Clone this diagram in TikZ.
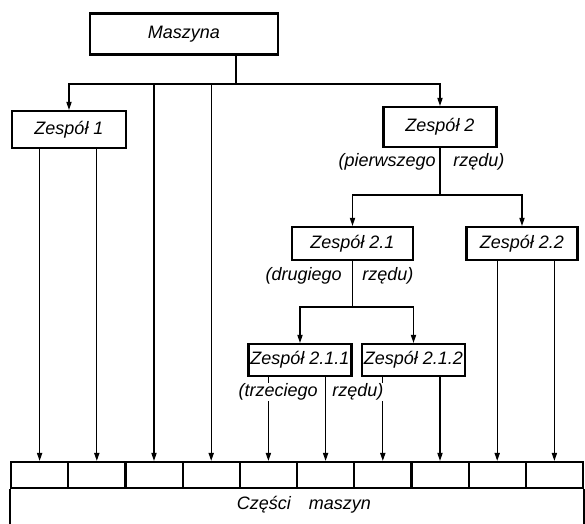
\documentclass[tikz,border=0pt]{standalone}
\usepackage{fontspec}
\setmainfont{Liberation Sans}
\usetikzlibrary{arrows.meta,positioning}

\begin{document}
\begin{tikzpicture}[x=0.5pt,y=-0.5pt,font=\itshape\fontsize{9}{10}\selectfont,
  unit/.style={draw,line width=1.1pt,inner sep=1pt},
  cell/.style={draw,line width=1.1pt,minimum width=28.6pt,minimum height=13pt,inner sep=0pt},
  note/.style={fill=white,inner sep=0.5pt},
  link/.style={line width=0.6pt},
  >={Triangle[length=4pt,width=2.6pt]}]
  \useasboundingbox (0,0) rectangle (585,524);
  \node[unit,minimum width=94pt,minimum height=20.5pt] (M) at (184,34) {Maszyna};
  \node[unit,minimum width=57pt,minimum height=18.5pt] (Z1) at (69,129.5) {Zespół 1};
  \node[unit,minimum width=56.5pt,minimum height=20pt] (Z2) at (440,127) {Zespół 2};
  \node[unit,minimum width=60.5pt,minimum height=16.5pt] (Z21) at (352.5,243.5) {Zespół 2.1};
  \node[unit,minimum width=55.5pt,minimum height=16.5pt] (Z22) at (522,243.5) {Zespół 2.2};
  \node[unit,minimum width=50pt,minimum height=16pt] (Z211) at (300,360) {Zespół 2.1.1};
  \node[unit,minimum width=51.5pt,minimum height=16pt] (Z212) at (413.5,360) {Zespół 2.1.2};
  \foreach \i in {1,...,10}
    \node[cell] (c\i) at ({11+57.2*(\i-0.5)},475) {};
  \draw[line width=1.1pt] (c1.south west) -- ++(0,50);
  \draw[line width=1.1pt] (c10.south east) -- ++(0,50);
  \node (P) at (304,505) {Części\quad maszyn};

  \coordinate (b0) at (236,84);
  \coordinate (b1) at (Z2 |- 0,195);
  \coordinate (b2) at (Z21 |- 0,307);
  \draw[link] (b0 |- M.south) -- (b0);
  \draw[link,->] (b0) -| (Z1);
  \draw[link,->] (b0) -| (Z2);
  \draw[link,->] (c3 |- b0) -- (c3);
  \draw[link,->] (c4 |- b0) -- (c4);
  \draw[link,->] (c1 |- Z1.south) -- (c1);
  \draw[link,->] (c2 |- Z1.south) -- (c2);
  \draw[link] (Z2) -- (b1);
  \draw[link,->] (b1) -| (Z21);
  \draw[link,->] (b1) -| (Z22);
  \draw[link,->] (c9 |- Z22.south) -- (c9);
  \draw[link,->] (c10 |- Z22.south) -- (c10);
  \draw[link] (Z21) -- (b2);
  \draw[link,->] (b2) -| (Z211);
  \draw[link,->] (b2) -| (Z212);
  \draw[link,->] (c5 |- Z211.south) -- (c5);
  \draw[link,->] (c6 |- Z211.south) -- (c6);
  \draw[link,->] (c7 |- Z212.south) -- (c7);
  \draw[link,->] (c8 |- Z212.south) -- (c8);

  \node[note,anchor=east] (l1a) at (437,162) {(pierwszego};
  \node[note,anchor=west] (l1b) at (452,162) {rzędu)};
  \node[note,anchor=east] (l2a) at (343,276) {(drugiego};
  \node[note,anchor=west] (l2b) at (361,276) {rzędu)};
  \node[note,anchor=east] (l3a) at (319,392) {(trzeciego};
  \node[note,anchor=west] (l3b) at (331,392) {rzędu)};
\end{tikzpicture}
\end{document}
